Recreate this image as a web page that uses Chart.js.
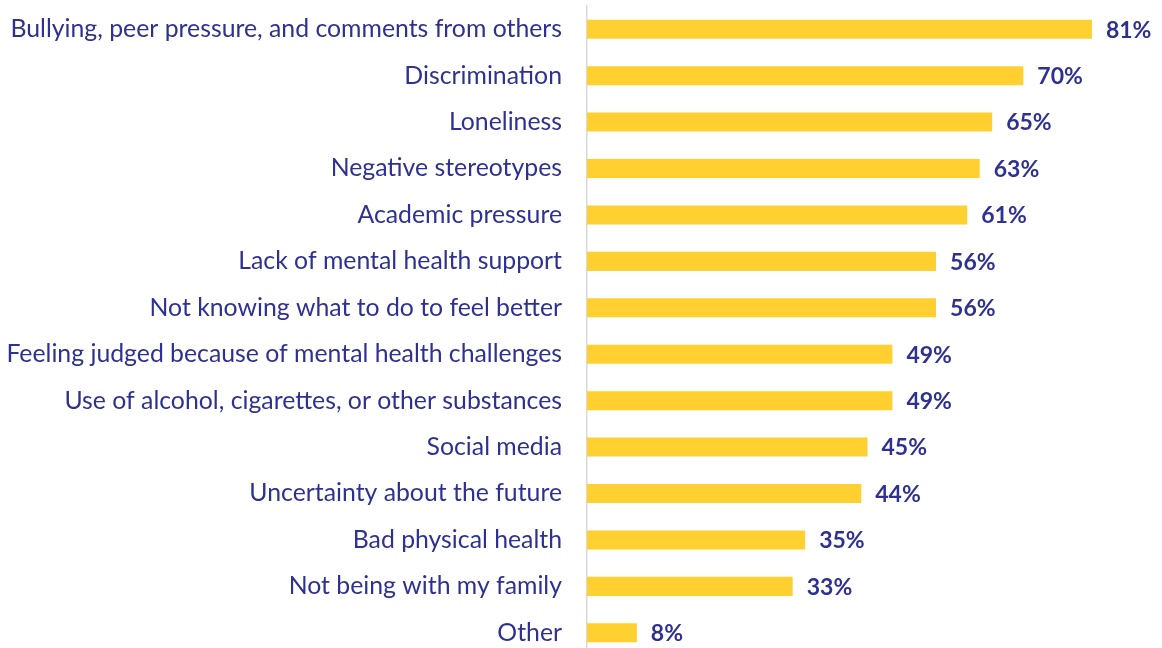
<!DOCTYPE html>
<html>
<head>
<meta charset="utf-8">
<script src="https://cdn.jsdelivr.net/npm/chart.js@4"></script>
<style>
  html, body { margin: 0; padding: 0; background: #fff; overflow: hidden; }
</style>
</head>
<body>
<canvas id="myChart" width="1162" height="662"></canvas>
<script>
const categories = [
  "Bullying, peer pressure, and comments from others",
  "Discrimination",
  "Loneliness",
  "Negative stereotypes",
  "Academic pressure",
  "Lack of mental health support",
  "Not knowing what to do to feel better",
  "Feeling judged because of mental health challenges",
  "Use of alcohol, cigarettes, or other substances",
  "Social media",
  "Uncertainty about the future",
  "Bad physical health",
  "Not being with my family",
  "Other"
];
const values = [81, 70, 65, 63, 61, 56, 56, 49, 49, 45, 44, 35, 33, 8];

const textColor = "#2E3192";
const barColor = "#FFD02F";

// value labels after each bar
const valueLabels = {
  id: "valueLabels",
  afterDatasetsDraw(chart) {
    const ctx = chart.ctx;
    const meta = chart.getDatasetMeta(0);
    ctx.save();
    ctx.font = "bold 23px Lato";
    ctx.fillStyle = textColor;
    ctx.textAlign = "left";
    ctx.textBaseline = "middle";
    meta.data.forEach((bar, i) => {
      ctx.fillText(values[i] + "%", bar.x + 14, bar.y + 1);
    });
    ctx.restore();
  }
};

new Chart("myChart", {
  type: "bar",
  data: {
    labels: categories,
    datasets: [{
      data: values,
      backgroundColor: barColor,
      barPercentage: 0.41,
      categoryPercentage: 1
    }]
  },
  options: {
    indexAxis: "y",
    responsive: false,
    animation: false,
    layout: { padding: { top: 6, bottom: 6, left: 0, right: 14 } },
    plugins: {
      legend: { display: false },
      tooltip: { enabled: false }
    },
    scales: {
      x: {
        display: false,
        min: 0,
        max: 90
      },
      y: {
        afterFit(scale) {
          scale.width = 587;
          scale.paddingTop = 0;
          scale.paddingBottom = 0;
        },
        grid: { display: false, drawTicks: true, tickLength: 25 },
        border: { display: true, color: "#D9D9D9", width: 1.5 },
        ticks: {
          color: textColor,
          padding: 0,
          autoSkip: false,
          font: { family: "Lato", size: 24.8 }
        }
      }
    }
  },
  plugins: [valueLabels]
});
</script>
</body>
</html>
